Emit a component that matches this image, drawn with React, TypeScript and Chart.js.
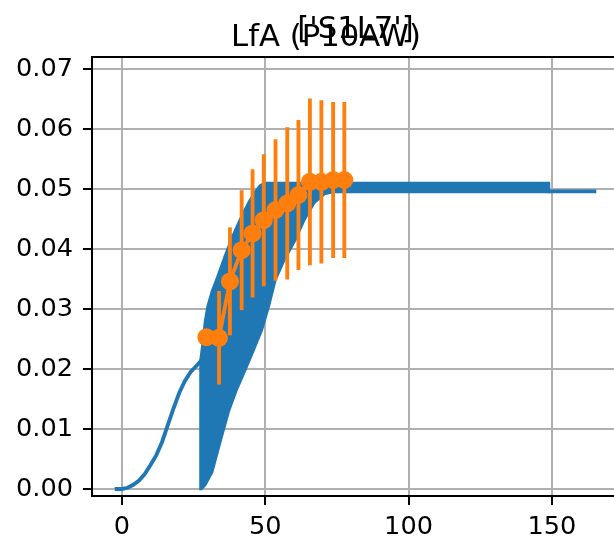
import React, { useEffect, useRef } from "react";
import { Chart, registerables } from "chart.js";

Chart.register(...registerables);

// ---- data ----
const suptitleText = "LfA (P10AW)";
const axesTitleText = "['S1L7']";

const xTicks = [0, 50, 100, 150];
const yTicks = [0, 0.01, 0.02, 0.03, 0.04, 0.05, 0.06, 0.07];

// smooth early growth curve
const curveX = [-1.8, 0, 2, 4, 6, 8, 10, 12, 14, 16, 18, 20, 22, 24, 26, 27.3];
const curveY = [0, 0, 0.0002, 0.0007, 0.0014, 0.0025, 0.004, 0.0056, 0.0078, 0.0106, 0.0134, 0.016, 0.018, 0.0195, 0.0205, 0.0212];

// dense oscillating band: upper and lower envelopes
const bandTopX = [27.0, 27.8, 28.6, 29.5, 31, 33, 35.4, 38, 41.3, 44, 46, 48, 50, 149.4];
const bandTopY = [0.0214, 0.0245, 0.028, 0.0305, 0.033, 0.0355, 0.0387, 0.042, 0.0455, 0.048, 0.0496, 0.0508, 0.0512, 0.0512];
const bandBottomX = [27.0, 28, 29.5, 31.9, 35, 37.8, 40.5, 43.7, 46.5, 49.3, 51.7, 54, 57, 61, 64, 67.5, 71, 74, 149.4];
const bandBottomY = [-0.0002, -0.0002, 0.0006, 0.0027, 0.0082, 0.013, 0.0165, 0.02, 0.0232, 0.0265, 0.0304, 0.0348, 0.038, 0.0415, 0.0447, 0.0476, 0.049, 0.0493, 0.0493];

// tail after the band
const tailX = [149.4, 164.8];
const tailY = [0.0496, 0.0496];

// observations with error bars
const obsX = [29.5, 33.9, 37.7, 41.8, 45.6, 49.5, 53.6, 57.7, 61.6, 65.6, 69.6, 73.7, 77.6];
const obsY = [0.0253, 0.0252, 0.0346, 0.0398, 0.0426, 0.0448, 0.0465, 0.0476, 0.049, 0.0512, 0.0512, 0.0515, 0.0515];
const obsErr = [0, 0.0078, 0.009, 0.01, 0.0107, 0.011, 0.0118, 0.0127, 0.0125, 0.0139, 0.0136, 0.013, 0.013];

const BLUE = "#1f77b4";
const ORANGE = "#ff7f0e";
const FONT = "'DejaVu Sans', sans-serif";
const LW = 3.85;

const W = 652;
const H = 541;

export default function App() {
  const ref = useRef<HTMLCanvasElement | null>(null);

  useEffect(() => {
    const canvas = ref.current;
    if (!canvas) return;

    const curve = curveX.map((x, i) => ({ x, y: curveY[i] }));
    const band = [
      ...bandTopX.map((x, i) => ({ x, y: bandTopY[i] })),
      ...bandBottomX.map((x, i) => ({ x, y: bandBottomY[i] })).reverse(),
    ];
    const tail = tailX.map((x, i) => ({ x, y: tailY[i] }));
    const obs = obsX.map((x, i) => ({ x, y: obsY[i] }));

    const errorBars = {
      id: "errorBars",
      beforeDatasetDraw(chart: any, args: any) {
        if (args.index !== 0) return;
        const { ctx, scales } = chart;
        const xs = scales.x;
        const ys = scales.y;
        ctx.save();
        ctx.strokeStyle = ORANGE;
        ctx.lineWidth = LW;
        ctx.lineCap = "butt";
        obsX.forEach((v, i) => {
          const e = obsErr[i];
          if (!e) return;
          const px = xs.getPixelForValue(v);
          ctx.beginPath();
          ctx.moveTo(px, ys.getPixelForValue(obsY[i] - e));
          ctx.lineTo(px, ys.getPixelForValue(obsY[i] + e));
          ctx.stroke();
        });
        ctx.restore();
      },
    };

    const frame = {
      id: "frame",
      afterDraw(chart: any) {
        const { ctx, chartArea } = chart;
        ctx.save();
        ctx.strokeStyle = "#000";
        ctx.lineWidth = 2;
        ctx.beginPath();
        ctx.moveTo(chartArea.left - 1, chartArea.top);
        ctx.lineTo(chartArea.right + 1, chartArea.top);
        ctx.moveTo(chartArea.right, chartArea.top);
        ctx.lineTo(chartArea.right, chartArea.bottom);
        ctx.stroke();

        ctx.fillStyle = "#000";
        ctx.font = `30.7px ${FONT}`;
        ctx.textAlign = "center";
        ctx.textBaseline = "alphabetic";
        const axCenter = (chartArea.left + chartArea.right) / 2;
        ctx.fillText(axesTitleText, axCenter, 38);
        ctx.fillText(suptitleText, W / 2, 46);
        ctx.restore();
      },
    };

    const chart = new Chart(canvas, {
      type: "line",
      data: {
        datasets: [
          {
            data: obs,
            borderColor: ORANGE,
            backgroundColor: ORANGE,
            borderWidth: LW,
            pointRadius: 9,
            pointBackgroundColor: ORANGE,
            pointBorderWidth: 0,
            fill: false,
            order: 0,
          },
          {
            data: curve,
            borderColor: BLUE,
            borderWidth: LW,
            pointRadius: 0,
            borderCapStyle: "square",
            fill: false,
            order: 1,
          },
          {
            data: band,
            borderColor: BLUE,
            backgroundColor: BLUE,
            borderWidth: 0,
            pointRadius: 0,
            fill: "shape",
            order: 2,
          },
          {
            data: tail,
            borderColor: BLUE,
            borderWidth: LW,
            pointRadius: 0,
            borderCapStyle: "square",
            fill: false,
            order: 3,
          },
        ],
      } as any,
      options: {
        responsive: false,
        animation: false,
        devicePixelRatio: 1,
        layout: { padding: { left: 0, top: 57, right: 33, bottom: 0 } },
        plugins: {
          legend: { display: false },
          title: { display: false },
          tooltip: { enabled: false },
        },
        scales: {
          x: {
            type: "linear",
            min: -10.4,
            max: 173.4,
            afterBuildTicks: (s: any) => {
              s.ticks = xTicks.map((v) => ({ value: v }));
            },
            afterFit: (s: any) => {
              s.height = 45;
            },
            grid: {
              color: "#b0b0b0",
              lineWidth: 2,
              drawTicks: true,
              tickLength: 9,
              tickColor: "#000",
              tickWidth: 2,
            },
            border: { display: true, color: "#000", width: 2 },
            ticks: {
              color: "#000",
              font: { family: FONT, size: 25.6 },
              padding: 7,
              maxRotation: 0,
              autoSkip: false,
              callback: (v: any) => String(v),
            },
          },
          y: {
            type: "linear",
            min: -0.00117,
            max: 0.072,
            afterBuildTicks: (s: any) => {
              s.ticks = yTicks.map((v) => ({ value: v }));
            },
            afterFit: (s: any) => {
              s.width = 92;
            },
            grid: {
              color: "#b0b0b0",
              lineWidth: 2,
              drawTicks: true,
              tickLength: 9,
              tickColor: "#000",
              tickWidth: 2,
            },
            border: { display: true, color: "#000", width: 2 },
            ticks: {
              color: "#000",
              font: { family: FONT, size: 25.6 },
              padding: 10,
              autoSkip: false,
              callback: (v: any) => Number(v).toFixed(2),
            },
          },
        },
      } as any,
      plugins: [errorBars, frame],
    });

    return () => chart.destroy();
  }, []);

  return (
    <div style={{ position: "fixed", left: 0, top: 0, width: W, height: H, background: "#fff" }}>
      <canvas ref={ref} width={W} height={H} style={{ display: "block", width: W, height: H }} />
    </div>
  );
}
